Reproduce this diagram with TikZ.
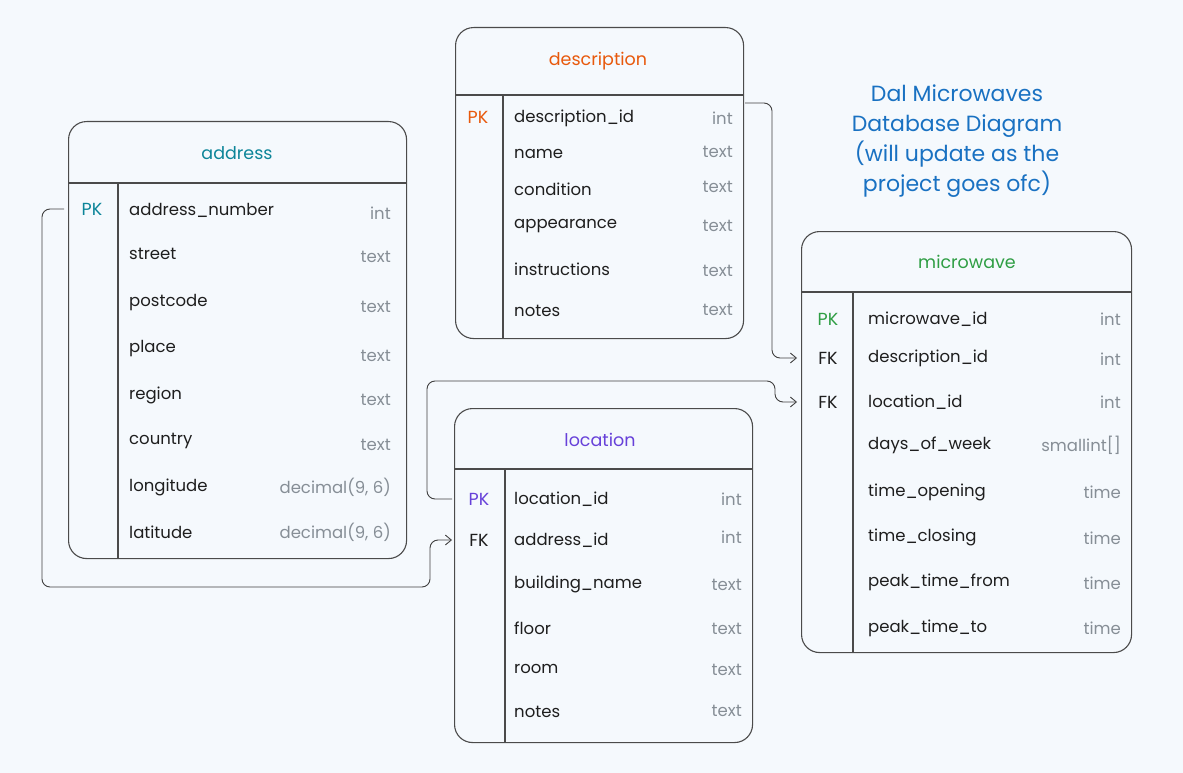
\documentclass[tikz,border=0pt]{standalone}
\usepackage{fontspec}
\setmainfont{Poppins}
\usetikzlibrary{arrows.meta}
\definecolor{bg}{HTML}{F5F9FD}
\definecolor{ink}{HTML}{1E1E1E}
\definecolor{gry}{HTML}{868E96}
\definecolor{cteal}{HTML}{0C8599}
\definecolor{corange}{HTML}{E8590C}
\definecolor{cgreen}{HTML}{2F9E44}
\definecolor{cviolet}{HTML}{6741D9}
\definecolor{cblue}{HTML}{1971C2}
\newcommand\decsix{decimal(9, 6)}
\begin{document}
\begin{tikzpicture}[x=1pt,y=-1pt,
  tbl/.style={draw=ink!80, line width=1.1pt, fill=bg, rounded corners=18pt, inner sep=0pt, anchor=north west},
  tline/.style={draw=ink!80, line width=1.1pt},
  fld/.style={anchor=west, text=ink, font=\fontsize{16.5}{18}\selectfont, inner sep=0pt},
  typ/.style={anchor=east, text=gry, font=\fontsize{16.5}{18}\selectfont, inner sep=0pt},
  key/.style={text=ink, font=\fontsize{17.5}{18}\selectfont, inner sep=0pt},
  ttl/.style={font=\fontsize{17.5}{18}\selectfont, inner sep=0pt},
  conn/.style={draw=ink!85, line width=0.9pt, rounded corners=8pt},
  arr/.style={-{Straight Barb[length=6pt,width=10pt]}}]
\fill[bg] (0,0) rectangle (1183,773);
\useasboundingbox (0,0) rectangle (1183,773);

% ---------- address ----------
\node[tbl, minimum width=338pt, minimum height=437pt] (addr) at (68,121) {};
\draw[tline] (68,183) -- (406,183);
\draw[tline] (118,183) -- (118,558);
\node[ttl, text=cteal] (addrttl) at (237,153) {address};
\node[key, text=cteal] (addrpk) at (92,209) {PK};
\foreach \f/\yf/\t/\yt [count=\i] in {
  address\_number/210/int/213, street/254/text/257, postcode/303/text/307,
  place/349/text/356, region/395/text/400, country/441/text/445,
  longitude/487/\decsix/487, latitude/532/\decsix/532}{
  \node[fld] (addrf\i) at (129,\yf) {\f};
  \node[typ] (addrt\i) at (391,\yt) {\t};
}

% ---------- description ----------
\node[tbl, minimum width=288pt, minimum height=311pt] (desc) at (455,27) {};
\draw[tline] (455,95) -- (743,95);
\draw[tline] (503,95) -- (503,338);
\node[ttl, text=corange] (descttl) at (598,61) {description};
\node[key, text=corange] (descpk) at (478,117) {PK};
\foreach \f/\yf/\t/\yt [count=\i] in {
  description\_id/118/int/118, name/154/text/152, condition/189/text/187,
  appearance/226/text/226, instructions/269/text/271, notes/311/text/310}{
  \node[fld] (descf\i) at (514,\yf) {\f};
  \node[typ] (desct\i) at (733,\yt) {\t};
}

% ---------- microwave ----------
\node[tbl, minimum width=330pt, minimum height=421pt] (mw) at (801,231) {};
\draw[tline] (801,292) -- (1131,292);
\draw[tline] (853,292) -- (853,652);
\node[ttl, text=cgreen] (mwttl) at (967,262) {microwave};
\node[key, text=cgreen] (mwpk) at (828,319) {PK};
\node[key] (mwfka) at (828,358) {FK};
\node[key] (mwfkb) at (828,402) {FK};
\foreach \f/\yf/\t/\yt [count=\i] in {
  microwave\_id/319/int/319, description\_id/358/int/359, location\_id/402/int/402,
  days\_of\_week/445/smallint[]/445, time\_opening/492/time/492,
  time\_closing/537/time/538, peak\_time\_from/582/time/583, peak\_time\_to/628/time/628}{
  \node[fld] (mwf\i) at (868,\yf) {\f};
  \node[typ] (mwt\i) at (1121,\yt) {\t};
}

% ---------- location ----------
\node[tbl, minimum width=298pt, minimum height=334pt] (loc) at (454,408) {};
\draw[tline] (454,469) -- (752,469);
\draw[tline] (505,469) -- (505,742);
\node[ttl, text=cviolet] (locttl) at (600,440) {location};
\node[key, text=cviolet] (locpk) at (479,499) {PK};
\node[key] (locfk) at (479,540) {FK};
\foreach \f/\yf/\t/\yt [count=\i] in {
  location\_id/499/int/499, address\_id/540/int/537, building\_name/584/text/585,
  floor/628/text/629, room/669/text/670, notes/712/text/711}{
  \node[fld] (locf\i) at (514,\yf) {\f};
  \node[typ] (loct\i) at (742,\yt) {\t};
}

% ---------- title ----------
\node[align=center, text=cblue, font=\fontsize{22}{30}\selectfont, inner sep=0pt] (title) at (957,141)
  {Dal Microwaves\\Database Diagram\\(will update as the\\project goes ofc)};

% ---------- connectors ----------
\coordinate (dsrc) at (745,103);
\draw[conn, arr] ([xshift=-4pt]addr.west |- addrpk) -- (42,209) -- (42,587) -- (430,587) -- (430,540)
  -- ([xshift=-2pt]loc.west |- locfk);
\draw[conn, arr] (dsrc) -- (772,103) -- (772,358) -- ([xshift=-4pt]mw.west |- mwfka);
\draw[conn, arr] ([xshift=-2pt]loc.west |- locpk) -- (427,499) -- (427,381) -- (775,381) -- (775,402)
  -- ([xshift=-4pt]mw.west |- mwfkb);
\end{tikzpicture}
\end{document}
